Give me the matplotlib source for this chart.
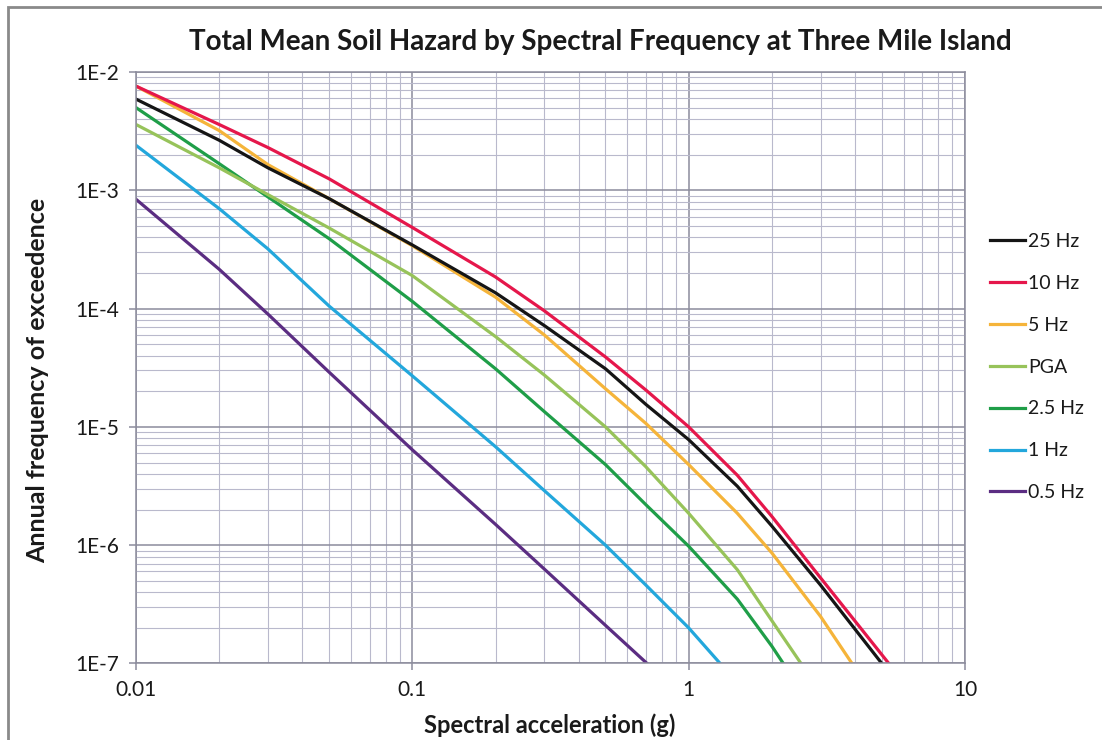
import math
import matplotlib.pyplot as plt
from matplotlib.ticker import LogLocator, NullFormatter, FuncFormatter
from matplotlib.patches import Rectangle

plt.rcParams['font.family'] = ['Lato', 'DejaVu Sans']

# spectral acceleration (g) and annual frequency of exceedence per curve
x_25hz = [0.01, 0.02, 0.03, 0.05, 0.1, 0.2, 0.3, 0.5, 0.7, 1.0, 1.5, 2.0, 3.0, 5.0]
y_25hz = [5.9e-3, 2.65e-3, 1.55e-3, 8.5e-4, 3.45e-4, 1.36e-4, 7.2e-5, 3.1e-5, 1.55e-5,
          7.8e-6, 3.15e-6, 1.45e-6, 4.6e-7, 1.0e-7]

x_10hz = [0.01, 0.02, 0.03, 0.05, 0.1, 0.2, 0.3, 0.5, 0.7, 1.0, 1.5, 2.0, 3.0, 5.3]
y_10hz = [7.6e-3, 3.6e-3, 2.3e-3, 1.25e-3, 4.85e-4, 1.85e-4, 9.6e-5, 3.9e-5, 2.05e-5,
          1.0e-5, 3.9e-6, 1.75e-6, 5.3e-7, 1.0e-7]

x_5hz = [0.01, 0.02, 0.03, 0.05, 0.1, 0.2, 0.3, 0.5, 0.7, 1.0, 1.5, 2.0, 3.0, 3.9]
y_5hz = [7.6e-3, 3.2e-3, 1.65e-3, 8.5e-4, 3.4e-4, 1.25e-4, 6.0e-5, 2.1e-5, 1.07e-5,
         4.8e-6, 1.86e-6, 8.6e-7, 2.5e-7, 1.0e-7]

x_pga = [0.01, 0.02, 0.03, 0.05, 0.1, 0.2, 0.3, 0.5, 0.7, 1.0, 1.5, 2.0, 2.55]
y_pga = [3.6e-3, 1.55e-3, 9.2e-4, 4.8e-4, 1.9e-4, 5.8e-5, 2.75e-5, 1.0e-5, 4.6e-6,
         1.86e-6, 6.2e-7, 2.3e-7, 1.0e-7]

x_2_5hz = [0.01, 0.02, 0.03, 0.05, 0.1, 0.2, 0.3, 0.5, 0.7, 1.0, 1.5, 2.0, 2.2]
y_2_5hz = [5.0e-3, 1.68e-3, 8.8e-4, 3.9e-4, 1.15e-4, 3.1e-5, 1.35e-5, 4.8e-6, 2.2e-6,
           9.8e-7, 3.5e-7, 1.4e-7, 1.0e-7]

x_1hz = [0.01, 0.02, 0.03, 0.05, 0.1, 0.2, 0.3, 0.5, 0.7, 1.0, 1.3]
y_1hz = [2.4e-3, 7.0e-4, 3.2e-4, 1.05e-4, 2.7e-5, 6.8e-6, 2.9e-6, 1.0e-6, 4.6e-7,
         2.0e-7, 1.0e-7]

x_0_5hz = [0.01, 0.02, 0.03, 0.05, 0.1, 0.2, 0.3, 0.5, 0.707]
y_0_5hz = [8.4e-4, 2.15e-4, 9.0e-5, 2.9e-5, 6.4e-6, 1.5e-6, 6.3e-7, 2.1e-7, 1.0e-7]

fig = plt.figure(figsize=(11.02, 7.40), dpi=100)
ax = fig.add_axes([0.1234, 0.1034, 0.7523, 0.7993])

lw = 2.3
l05, = ax.plot(x_0_5hz, y_0_5hz, color="#5b2d82", lw=lw, label="0.5 Hz")
l1, = ax.plot(x_1hz, y_1hz, color="#23a7dc", lw=lw, label="1 Hz")
l25, = ax.plot(x_2_5hz, y_2_5hz, color="#1f9e48", lw=lw, label="2.5 Hz")
lpga, = ax.plot(x_pga, y_pga, color="#97c35a", lw=lw, label="PGA")
l5, = ax.plot(x_5hz, y_5hz, color="#f5b43a", lw=lw, label="5 Hz")
l10, = ax.plot(x_10hz, y_10hz, color="#e5174b", lw=lw, label="10 Hz")
l25hz, = ax.plot(x_25hz, y_25hz, color="#151515", lw=lw, label="25 Hz")

ax.set_xscale("log")
ax.set_yscale("log")
ax.set_xlim(0.01, 10)
ax.set_ylim(1e-7, 1e-2)

ax.xaxis.set_major_locator(LogLocator(base=10, numticks=10))
ax.xaxis.set_minor_locator(LogLocator(base=10, subs=range(2, 10), numticks=20))
ax.yaxis.set_major_locator(LogLocator(base=10, numticks=10))
ax.yaxis.set_minor_locator(LogLocator(base=10, subs=range(2, 10), numticks=20))
ax.xaxis.set_minor_formatter(NullFormatter())
ax.yaxis.set_minor_formatter(NullFormatter())
ax.xaxis.set_major_formatter(FuncFormatter(lambda v, p: "%g" % v))
ax.yaxis.set_major_formatter(FuncFormatter(lambda v, p: "1E%d" % round(math.log10(v))))

ax.grid(True, which="major", color="#8c8c9c", lw=1.1)
ax.grid(True, which="minor", color="#b9b9cc", lw=0.8)
ax.set_axisbelow(True)
for s in ax.spines.values():
    s.set_color("#8c8c9c")
    s.set_linewidth(1.1)
ax.tick_params(which="major", length=5, width=1.1, color="#8c8c9c",
               labelsize=15, pad=7, labelcolor="#1a1a1a")
ax.tick_params(which="minor", length=0)

leg = ax.legend(handles=[l25hz, l10, l5, lpga, l25, l1, l05],
                loc="upper left", bbox_to_anchor=(1.03, 0.728),
                frameon=False, fontsize=14, handlelength=1.8,
                handletextpad=0.15, labelspacing=1.28, borderpad=0,
                borderaxespad=0)
for t in leg.get_texts():
    t.set_color("#1a1a1a")

fig.text(0.545, 0.943, "Total Mean Soil Hazard by Spectral Frequency at Three Mile Island",
         ha="center", va="center", fontsize=20, fontweight="bold", color="#1a1a1a")
fig.text(550 / 1102, 1 - 725 / 740, "Spectral acceleration (g)",
         ha="center", va="center", fontsize=17, fontweight="bold", color="#1a1a1a")
fig.text(38 / 1102, 1 - 380 / 740, "Annual frequency of exceedence", rotation=90,
         ha="center", va="center", fontsize=18, fontweight="bold", color="#1a1a1a")

# outer chart border (top and left visible)
fig.patches.append(Rectangle((8 / 1102, -0.05), 1.2, 1.05 - 7 / 740,
                             transform=fig.transFigure, fill=False,
                             edgecolor="#8a8a8a", lw=2.0))

fig.savefig("out.png", dpi=100)
